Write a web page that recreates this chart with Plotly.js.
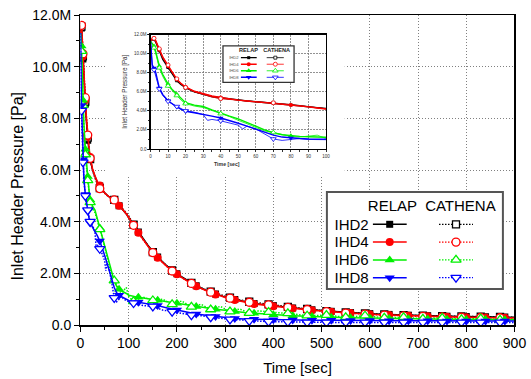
<!DOCTYPE html>
<html><head><meta charset="utf-8">
<script src="https://cdn.plot.ly/plotly-3.0.1.min.js"></script>
<style>html,body{margin:0;padding:0;background:#fff}#chart{width:531px;height:379px}</style>
</head><body><div id="chart"></div>
<script>
// ---------- data (pressure in MPa, time in s) ----------
const TIME_RELAP = [0,1,2,3,5,7,10,12.5,15,17.5,20,25,30,35,40,45,50,55,60,65,70,75,80,85,90,95,100,120,140,160,180,200,220,240,260,280,300,320,340,360,400,440,480,520,560,600,640,680,720,760,800,840,880,900];
const TIME_CATHENA = [0,1,2,3,5,7,10,12.5,15,17.5,20,25,30,32.5,35,40,45,50,52.5,55,60,65,70,75,80,85,90,95,100,110,130,150,170,190,210,230,250,270,290,310,330,350,370,390,430,470,510,550,590,630,670,710,750,790,830,870,900];

const IHD2_RELAP = [11.3,11.5,11.5,11.2,10.3,9.4,8.55,7.8,7.15,6.75,6.42,6.0,5.75,5.52,5.38,5.24,5.12,5.03,4.95,4.88,4.8,4.71,4.62,4.52,4.42,4.3,4.15,3.6,3.08,2.63,2.27,1.98,1.74,1.52,1.35,1.2,1.08,0.99,0.9,0.83,0.75,0.66,0.59,0.53,0.48,0.44,0.41,0.38,0.36,0.34,0.33,0.32,0.31,0.3];
const IHD4_RELAP = [11.3,11.6,11.6,11.3,10.4,9.6,8.7,7.95,7.3,6.85,6.5,6.05,5.78,5.55,5.4,5.25,5.12,5.03,4.95,4.88,4.8,4.71,4.62,4.52,4.42,4.3,4.15,3.57,3.05,2.6,2.25,1.96,1.72,1.5,1.33,1.18,1.06,0.97,0.88,0.81,0.73,0.64,0.57,0.51,0.46,0.42,0.39,0.36,0.34,0.32,0.3,0.29,0.28,0.27];
const IHD6_RELAP = [11.3,11.1,10.8,10.2,8.7,7.8,6.8,6.2,5.75,5.25,4.85,4.6,4.45,4.1,3.75,3.45,3.15,2.8,2.4,2.0,1.7,1.5,1.38,1.32,1.28,1.22,1.15,1.07,1.02,0.96,0.9,0.84,0.78,0.72,0.66,0.61,0.57,0.52,0.48,0.45,0.4,0.36,0.33,0.3,0.28,0.27,0.25,0.24,0.23,0.22,0.21,0.21,0.2,0.2];
const IHD8_RELAP = [11.3,8.8,8.5,8.0,6.4,5.7,5.05,4.7,4.4,4.15,3.95,3.8,3.65,3.45,3.25,3.0,2.7,2.4,2.1,1.8,1.45,1.25,1.15,1.1,1.05,1.0,0.95,0.88,0.82,0.75,0.66,0.58,0.5,0.43,0.38,0.33,0.28,0.25,0.23,0.22,0.2,0.19,0.18,0.18,0.17,0.17,0.16,0.16,0.16,0.15,0.15,0.15,0.15,0.15];

const IHD2_CATHENA = [11.3,11.5,11.55,11.3,10.4,9.55,8.65,7.9,7.25,6.8,6.42,5.98,5.7,5.58,5.45,5.3,5.2,5.1,5.06,5.02,4.96,4.9,4.84,4.75,4.66,4.56,4.46,4.34,4.22,3.88,3.32,2.82,2.44,2.11,1.85,1.63,1.44,1.29,1.16,1.06,0.97,0.9,0.85,0.8,0.7,0.62,0.54,0.49,0.45,0.41,0.38,0.36,0.34,0.33,0.32,0.31,0.3];
const IHD4_CATHENA = [11.3,11.5,11.6,11.4,10.5,9.7,8.8,8.0,7.35,6.85,6.45,6.0,5.7,5.58,5.45,5.28,5.18,5.1,5.06,5.02,4.95,4.9,4.84,4.75,4.65,4.55,4.45,4.33,4.2,3.86,3.3,2.8,2.42,2.09,1.83,1.61,1.42,1.27,1.14,1.04,0.95,0.88,0.83,0.78,0.68,0.6,0.52,0.46,0.42,0.38,0.35,0.33,0.31,0.3,0.29,0.28,0.27];
const IHD6_CATHENA = [11.3,11.0,10.6,10.0,8.5,7.6,6.6,6.1,5.6,5.1,4.75,4.5,4.35,4.2,4.0,3.7,3.4,3.0,2.85,2.65,2.25,1.9,1.72,1.55,1.32,1.25,1.35,1.45,1.1,0.92,1.08,0.95,1.0,0.8,0.93,0.7,0.8,0.6,0.72,0.52,0.62,0.46,0.55,0.5,0.45,0.36,0.38,0.3,0.36,0.28,0.3,0.24,0.27,0.22,0.25,0.2,0.22];
const IHD8_CATHENA = [11.3,8.6,8.3,7.6,6.3,5.6,5.0,4.7,4.45,4.2,4.0,3.85,3.6,3.0,3.1,2.95,2.75,2.5,2.1,2.4,2.1,1.6,1.05,0.9,1.0,1.1,1.0,0.95,0.9,0.85,0.75,0.72,0.58,0.52,0.45,0.38,0.36,0.3,0.26,0.22,0.2,0.16,0.14,0.13,0.12,0.1,0.1,0.1,0.1,0.1,0.1,0.1,0.1,0.1,0.1,0.1,0.1];

// times at which a symbol is drawn on each curve
const MARK_TIME_RELAP = [2,5,10,15,20,40,80,120,160,200,240,280,320,360,400,440,480,520,560,600,640,680,720,760,800,840,880];
const MARK_TIME_CATHENA = [2,5,10,15,20,40,70,110,150,190,230,270,310,350,390,430,470,510,550,590,630,670,710,750,790,830,870];

const SERIES = ['IHD2','IHD4','IHD6','IHD8'];
const CODES = ['RELAP','CATHENA'];
const Y_TICK_VALS = [0,2,4,6,8,10,12];
const Y_TICK_TEXT = ['0.0','2.0M','4.0M','6.0M','8.0M','10.0M','12.0M'];

// ---------- styling ----------
const FONT = 'Liberation Sans, Arial, Helvetica, sans-serif';
const COLORS = {IHD2:'#000000', IHD4:'#ff0000', IHD6:'#00f000', IHD8:'#0000ff'};
const SYMBOLS = {IHD2:'square', IHD4:'circle', IHD6:'triangle-up', IHD8:'triangle-down'};
const VALUES = {
  RELAP: {IHD2:IHD2_RELAP, IHD4:IHD4_RELAP, IHD6:IHD6_RELAP, IHD8:IHD8_RELAP},
  CATHENA: {IHD2:IHD2_CATHENA, IHD4:IHD4_CATHENA, IHD6:IHD6_CATHENA, IHD8:IHD8_CATHENA}
};
const TIMES = {RELAP: TIME_RELAP, CATHENA: TIME_CATHENA};
const MARKS = {RELAP: MARK_TIME_RELAP, CATHENA: MARK_TIME_CATHENA};

function markerStyle(s, code, size){
  const filled = code === 'RELAP';
  const sz = SYMBOLS[s].startsWith('triangle') ? size + 1 : (SYMBOLS[s]==='square' ? size - 1 : size);
  return {symbol: SYMBOLS[s], size: sz, color: filled ? COLORS[s] : '#ffffff',
          line: {color: COLORS[s], width: filled ? 0 : (size > 5 ? 1.3 : 0.8)}};
}

const traces = [];
function addCurves(xa, ya, lineW, markSize, cathDash){
  SERIES.forEach(s => {
    CODES.forEach(code => {
      const t = TIMES[code], p = VALUES[code][s];
      traces.push({type:'scatter', mode:'lines', x:t, y:p, xaxis:xa, yaxis:ya,
        line:{color:COLORS[s], width: code==='RELAP' ? lineW[0] : lineW[1], dash: code==='RELAP' ? 'solid' : cathDash},
        showlegend:false, hoverinfo:'skip'});
    });
    CODES.forEach(code => {
      const t = TIMES[code], p = VALUES[code][s];
      const mx = [], my = [];
      t.forEach((v,i) => { if (MARKS[code].includes(v)) { mx.push(v); my.push(p[i]); } });
      traces.push({type:'scatter', mode:'markers', x:mx, y:my, xaxis:xa, yaxis:ya,
        marker: markerStyle(s, code, markSize), showlegend:false, hoverinfo:'skip'});
    });
  });
}
addCurves('x','y',[1.5,1.5],8,'1.5px,1.5px');
addCurves('x2','y2',[1.4,0.8],4,'solid');

// custom legends (main: x3/y3, inset: x4/y4)
function addLegend(xa, ya, cols, lineW, markSize, cathDash){
  SERIES.forEach(s => {
    CODES.forEach((code, ci) => {
      const c = cols[ci];
      traces.push({type:'scatter', mode:'lines', x:[c[0], c[2]], y:[s, s], xaxis:xa, yaxis:ya,
        line:{color:COLORS[s], width: code==='RELAP' ? lineW[0] : lineW[1], dash: code==='RELAP' ? 'solid' : cathDash},
        showlegend:false, hoverinfo:'skip', cliponaxis:false});
      traces.push({type:'scatter', mode:'markers', x:[c[1]], y:[s], xaxis:xa, yaxis:ya,
        marker: markerStyle(s, code, markSize), showlegend:false, hoverinfo:'skip', cliponaxis:false});
    });
  });
}
addLegend('x3','y3',[[0,1,2],[3.9,4.9,5.9]],[1.5,1.2],8,'1.5px,1.5px');
addLegend('x4','y4',[[0,1,2],[3.25,4.33,5.4]],[1.4,0.8],4,'solid');

const hidden = {showline:false, showgrid:false, zeroline:false, fixedrange:true};

const layout = {
  width:531, height:379, margin:{l:0,r:0,t:0,b:0},
  paper_bgcolor:'#ffffff', plot_bgcolor:'#ffffff',
  font:{family:FONT, color:'#000'},
  showlegend:false,
  xaxis:{domain:[0.1516,0.9689], anchor:'y', range:[0,900], tick0:0, dtick:100,
    ticks:'outside', ticklen:5, tickwidth:1, tickcolor:'#000',
    showline:true, linecolor:'#000', linewidth:1.5, mirror:true,
    showgrid:true, gridcolor:'#808080', gridwidth:1, griddash:'1px,2px', zeroline:false,
    minor:{ticks:'outside', ticklen:3, tickwidth:1, tickcolor:'#000', dtick:50, tick0:0, showgrid:false},
    tickfont:{family:FONT, size:14, color:'#000'},
    title:{text:'Time [sec]', font:{family:FONT, size:15, color:'#000'}, standoff:12}},
  yaxis:{domain:[0.14248,0.96042], anchor:'x', range:[0,12], tickmode:'array', tickvals:Y_TICK_VALS, ticktext:Y_TICK_TEXT,
    ticks:'outside', ticklen:5, tickwidth:1, tickcolor:'#000',
    showline:true, linecolor:'#000', linewidth:1.5, mirror:true,
    showgrid:true, gridcolor:'#808080', gridwidth:1, griddash:'1px,2px', zeroline:false,
    minor:{ticks:'outside', ticklen:3, tickwidth:1, tickcolor:'#000', dtick:1, tick0:0, showgrid:false},
    tickfont:{family:FONT, size:14, color:'#000'}},
  xaxis2:{domain:[0.28343,0.61394], anchor:'y2', range:[0,100], tick0:0, dtick:10,
    ticks:'outside', ticklen:2, tickwidth:0.8, tickcolor:'#000',
    showline:true, linecolor:'#000', linewidth:1.2, mirror:true,
    showgrid:true, gridcolor:'#777', gridwidth:0.8, griddash:'2px,1px', zeroline:false,
    minor:{ticks:'outside', ticklen:1.5, tickwidth:0.8, tickcolor:'#000', dtick:5, tick0:0, showgrid:false},
    tickfont:{family:FONT, size:4.5, color:'#333'}},
  yaxis2:{domain:[0.60686,0.90897], anchor:'x2', range:[0,12], tickmode:'array', tickvals:Y_TICK_VALS, ticktext:Y_TICK_TEXT,
    ticks:'outside', ticklen:2, tickwidth:0.8, tickcolor:'#000',
    showline:true, linecolor:'#000', linewidth:1.2, mirror:true,
    showgrid:true, gridcolor:'#777', gridwidth:0.8, griddash:'2px,1px', zeroline:false,
    minor:{ticks:'outside', ticklen:1.5, tickwidth:0.8, tickcolor:'#000', dtick:1, tick0:0, showgrid:false},
    tickfont:{family:FONT, size:4.5, color:'#333'},
    title:{text:'Inlet Header Pressure [Pa]', font:{family:FONT, size:6.3, color:'#333'}, standoff:5}},
  xaxis3:Object.assign({domain:[0.70188,0.89077], anchor:'y3', range:[0,5.9], side:'top',
    tickmode:'array', tickvals:[1.16,5.16], ticktext:CODES, ticks:'',
    tickfont:{family:FONT, size:15, color:'#000'}}, hidden),
  yaxis3:Object.assign({domain:[0.24380,0.43166], anchor:'x3', type:'category',
    categoryorder:'array', categoryarray:SERIES.slice().reverse(), range:[-0.5,3.5],
    tickmode:'array', tickvals:SERIES, ticktext:SERIES, ticks:'',
    ticklabelstandoff:3, tickfont:{family:FONT, size:15, color:'#000'}}, hidden),
  xaxis4:Object.assign({domain:[0.45330,0.53465], anchor:'y4', range:[0,5.4], side:'top',
    tickmode:'array', tickvals:[0.98,4.5], ticktext:CODES, ticks:'',
    tickfont:{family:FONT, size:5.6, color:'#222', weight:'bold'}}, hidden),
  yaxis4:Object.assign({domain:[0.78734,0.85646], anchor:'x4', type:'category',
    categoryorder:'array', categoryarray:SERIES.slice().reverse(), range:[-0.5,3.5],
    tickmode:'array', tickvals:SERIES, ticktext:SERIES, ticks:'',
    ticklabelstandoff:1, tickfont:{family:FONT, size:4.2, color:'#555'}}, hidden),
  shapes:[
    // white panel behind the inset (hides the main grid)
    {type:'rect', xref:'x', yref:'y', x0:51, x1:548, y0:5.73, y1:12, layer:'between',
     fillcolor:'#ffffff', line:{width:0}},
    // main legend box
    {type:'rect', xref:'x', yref:'y', x0:511, x1:876, y0:1.394, y1:5.149, layer:'between',
     fillcolor:'#ffffff', line:{color:'#555', width:2}},
    // inset legend box
    {type:'rect', xref:'x2', yref:'y2', x0:41.3, x1:81.8, y0:6.99, y1:10.8, layer:'between',
     fillcolor:'#ffffff', line:{color:'#333', width:1.3}}
  ],
  annotations:[
    {xref:'paper', yref:'paper', x:0.0339, y:0.5079, text:'Inlet Header Pressure [Pa]', textangle:-90,
     showarrow:false, xanchor:'center', yanchor:'middle', font:{family:FONT, size:16, color:'#000'}},
    {xref:'paper', yref:'paper', x:0.4266, y:0.5673, text:'Time [sec]', showarrow:false,
     xanchor:'center', yanchor:'middle', font:{family:FONT, size:5.2, color:'#333', weight:'bold'}}
  ]
};

Plotly.newPlot('chart', traces, layout, {staticPlot:true, displayModeBar:false});
</script>
</body></html>
